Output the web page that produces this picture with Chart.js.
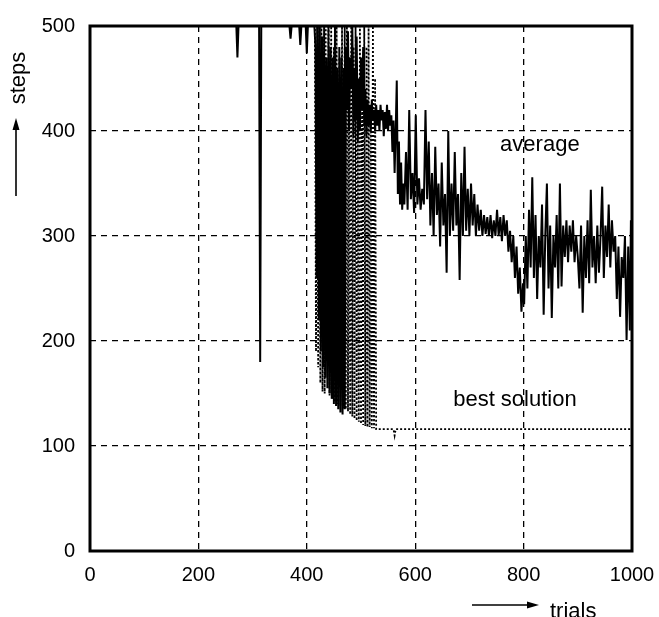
<!DOCTYPE html>
<html>
<head>
<meta charset="utf-8">
<script src="https://cdn.jsdelivr.net/npm/chart.js@4.4.0/dist/chart.umd.min.js"></script>
<style>
  html, body { margin: 0; padding: 0; background: #fff; }
  #wrap { width: 659px; height: 617px; }
</style>
</head>
<body>
<div id="wrap"><canvas id="chart" width="659" height="617"></canvas></div>
<script>
// trials / steps
const xTicks = [0, 200, 400, 600, 800, 1000];
const yTicks = [0, 100, 200, 300, 400, 500];

// average steps per trial  [trial, steps]
const averageSeries = [
    [0, 500], [270, 500], [272, 470], [274, 500],
    [312, 500], [314, 180], [316, 500],
    [368, 500], [370, 488], [372, 500],
    [386, 500], [388, 482], [390, 500], [398, 500], [400, 474], [402, 500], [414, 500],
    [416, 480], [418, 260], [420, 500], [422, 220], [424, 500], [426, 190], [428, 490], [430, 175],
    [432, 500], [434, 165], [436, 470], [438, 155], [440, 500], [442, 150], [444, 480], [446, 145],
    [448, 470], [450, 140], [452, 500], [454, 138], [456, 460], [458, 135], [460, 480], [462, 132],
    [464, 470], [466, 130], [468, 460], [470, 135],
    [472, 480], [474, 420], [476, 495], [478, 400], [480, 470], [482, 440], [484, 500], [486, 395],
    [488, 460], [490, 410], [492, 490], [494, 390], [496, 450], [498, 400], [500, 470], [502, 420],
    [504, 480], [506, 405], [508, 440], [510, 395], [512, 430], [514, 405], [516, 425], [518, 400],
    [520, 430], [522, 410], [524, 420], [526, 400], [528, 425], [530, 405], [532, 420], [534, 400],
    [536, 425], [538, 410], [540, 420], [542, 395], [544, 418], [546, 402], [548, 425], [550, 400],
    [552, 420], [554, 405], [556, 415], [558, 380], [560, 410], [562, 360], [564, 400], [566, 448],
    [568, 340], [570, 390], [572, 330], [574, 370], [576, 325], [578, 350],
    [580, 330], [583, 380], [586, 325], [589, 420], [592, 335], [595, 360], [598, 322], [601, 415],
    [604, 330], [607, 355], [610, 325], [613, 345], [616, 330], [619, 420], [622, 335], [625, 390],
    [628, 310], [631, 360], [634, 300], [637, 385], [640, 320], [643, 350], [646, 290], [649, 370],
    [652, 310], [655, 340], [658, 265], [661, 400], [664, 300], [667, 350], [670, 305], [673, 380],
    [676, 310], [679, 340], [682, 258], [685, 360], [688, 300], [691, 385], [694, 305], [697, 345],
    [700, 300], [703, 350], [706, 310], [709, 340], [712, 300], [715, 330], [718, 305], [721, 325],
    [724, 300], [727, 320], [730, 302], [733, 318], [736, 300], [739, 320], [742, 298], [745, 315],
    [748, 300], [751, 325], [754, 300], [757, 318], [760, 295], [763, 320], [766, 300], [769, 315],
    [772, 285], [775, 305], [778, 275], [781, 300], [784, 260], [787, 290], [790, 245], [793, 270],
    [796, 228], [799, 255], [801, 235],
    [804, 300], [807, 250], [810, 325], [813, 270], [816, 356], [819, 260], [822, 320], [825, 240],
    [828, 300], [831, 270], [834, 330], [837, 225], [840, 300], [843, 350], [846, 250], [849, 310],
    [852, 222], [855, 300], [858, 270], [861, 320], [864, 250], [867, 350], [870, 252], [873, 310],
    [876, 280], [879, 315], [882, 275], [885, 310], [888, 285], [891, 315], [894, 275], [897, 300],
    [900, 280], [903, 250], [906, 310], [909, 227], [912, 300], [915, 260], [918, 315], [921, 255],
    [924, 344], [927, 270], [930, 300], [933, 255], [936, 310], [939, 265], [942, 300], [945, 347],
    [948, 260], [951, 310], [954, 280], [957, 330], [960, 270], [963, 315], [966, 285], [969, 300],
    [972, 240], [975, 290], [978, 223], [981, 280], [984, 260], [987, 300], [990, 201], [993, 290],
    [996, 210], [998, 315], [1000, 250]
];

// best solution found so far  [trial, steps]
const bestSeries = [
    [0, 500], [413, 500],
    [415, 500], [417, 190], [419, 500], [421, 175], [423, 500], [425, 160], [427, 500], [429, 152],
    [431, 490], [433, 150], [435, 500], [440, 500], [442, 148], [445, 500], [447, 145], [450, 480],
    [452, 142], [455, 500], [457, 140], [460, 470], [462, 138], [465, 500], [467, 136], [470, 500],
    [472, 135], [474, 500], [476, 133], [478, 470], [480, 130], [482, 500], [484, 128], [486, 480],
    [488, 126], [490, 500], [492, 124], [494, 420], [496, 123], [498, 500], [500, 121], [502, 430],
    [504, 120], [506, 500], [508, 119], [510, 480], [512, 118], [514, 500], [516, 118], [518, 420],
    [520, 117], [522, 500], [524, 117], [526, 450], [528, 116], [532, 116],
    [560, 116], [562, 110], [564, 116], [1000, 116]
];

const FONT = "'Liberation Sans', Arial, Helvetica, sans-serif";

const toPoints = s => s.map(p => ({ x: p[0], y: p[1] }));

// frame, labels and arrows
const decorations = {
    id: 'decorations',
    afterDraw(chart) {
        const { ctx, chartArea: a, scales } = chart;
        ctx.save();
        ctx.strokeStyle = '#000';
        ctx.lineWidth = 3;
        ctx.strokeRect(a.left, a.top, a.right - a.left, a.bottom - a.top);

        ctx.fillStyle = '#000';
        ctx.font = '22px ' + FONT;
        ctx.textAlign = 'center';
        ctx.textBaseline = 'middle';
        ctx.fillText('average', scales.x.getPixelForValue(830), scales.y.getPixelForValue(387));
        ctx.fillText('best solution', scales.x.getPixelForValue(784), scales.y.getPixelForValue(144));

        // y title
        ctx.save();
        ctx.translate(19, 78);
        ctx.rotate(-Math.PI / 2);
        ctx.fillText('steps', 0, 0);
        ctx.restore();
        ctx.lineWidth = 1.6;
        ctx.beginPath();
        ctx.moveTo(16, 196);
        ctx.lineTo(16, 126);
        ctx.stroke();
        ctx.beginPath();
        ctx.moveTo(16, 118);
        ctx.lineTo(12.5, 130);
        ctx.lineTo(19.5, 130);
        ctx.closePath();
        ctx.fill();

        // x title
        ctx.beginPath();
        ctx.moveTo(472, 605);
        ctx.lineTo(530, 605);
        ctx.stroke();
        ctx.beginPath();
        ctx.moveTo(539, 605);
        ctx.lineTo(527, 601.5);
        ctx.lineTo(527, 608.5);
        ctx.closePath();
        ctx.fill();
        ctx.textAlign = 'left';
        ctx.textBaseline = 'alphabetic';
        ctx.fillText('trials', 550, 618);
        ctx.restore();
    }
};

new Chart(document.getElementById('chart').getContext('2d'), {
    type: 'line',
    data: {
        datasets: [{
            label: 'average',
            data: toPoints(averageSeries),
            borderColor: '#000',
            borderWidth: 2,
            pointRadius: 0,
            tension: 0
        }, {
            label: 'best solution',
            data: toPoints(bestSeries),
            borderColor: '#000',
            borderWidth: 1.8,
            borderDash: [2, 2],
            pointRadius: 0,
            tension: 0
        }]
    },
    options: {
        responsive: false,
        animation: false,
        layout: { padding: { left: 0, right: 27, top: 26, bottom: 0 } },
        plugins: {
            legend: { display: false },
            tooltip: { enabled: false }
        },
        scales: {
            x: {
                type: 'linear',
                min: 0,
                max: 1000,
                afterFit: s => { s.height = 66; s.paddingLeft = 0; s.paddingRight = 0; },
                afterBuildTicks: s => { s.ticks = xTicks.map(v => ({ value: v })); },
                grid: {
                    color: '#000',
                    lineWidth: 1.3,
                    drawTicks: false
                },
                border: { display: false, dash: [6, 5] },
                ticks: {
                    color: '#000',
                    padding: 12,
                    font: { family: FONT, size: 20 },
                    maxRotation: 0,
                    callback: v => String(v)
                }
            },
            y: {
                type: 'linear',
                min: 0,
                max: 500,
                afterFit: s => { s.width = 90; s.paddingTop = 0; s.paddingBottom = 0; },
                afterBuildTicks: s => { s.ticks = yTicks.map(v => ({ value: v })); },
                grid: {
                    color: '#000',
                    lineWidth: 1.3,
                    drawTicks: false
                },
                border: { display: false, dash: [6, 5] },
                ticks: {
                    color: '#000',
                    padding: 15,
                    font: { family: FONT, size: 20 },
                    callback: v => String(v)
                }
            }
        }
    },
    plugins: [decorations]
});
</script>
</body>
</html>
